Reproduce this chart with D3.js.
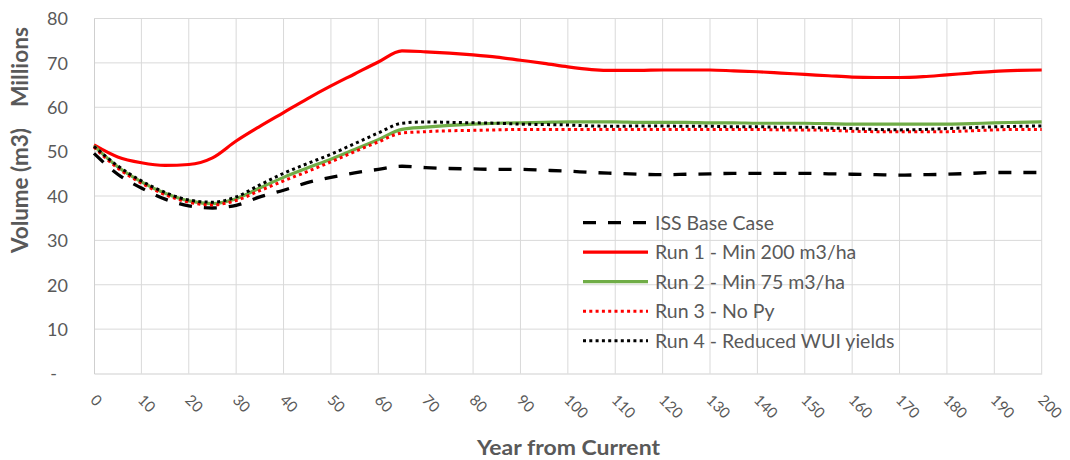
<!DOCTYPE html>
<html>
<head>
<meta charset="utf-8">
<script src="https://cdn.jsdelivr.net/npm/d3@7"></script>
<style>
  html, body { margin: 0; padding: 0; background: #fff; }
  svg { display: block; font-family: Lato, "Open Sans", sans-serif; }
</style>
</head>
<body>
<svg id="chart" width="1070" height="460"></svg>
<script>
// ---- data ----
const years = [0,5,10,15,20,25,30,35,40,45,50,55,60,65,70,75,80,85,90,95,100,105,110,115,120,125,130,135,140,145,150,155,160,165,170,175,180,185,190,195,200];

const issBase = [49.6,44.9,41.8,39.3,37.8,37.3,37.9,39.8,41.3,43.0,44.2,45.2,46.0,46.7,46.4,46.2,46.1,46.0,46.0,45.8,45.6,45.3,45.1,44.9,44.8,44.9,45.0,45.1,45.1,45.1,45.1,45.0,44.9,44.8,44.7,44.8,44.9,45.1,45.3,45.3,45.3];
const run1 = [51.5,48.8,47.5,46.9,47.1,48.6,52.4,55.7,58.8,61.9,64.8,67.5,70.2,72.7,72.5,72.2,71.8,71.3,70.6,69.9,69.1,68.5,68.3,68.3,68.4,68.4,68.4,68.2,68.0,67.7,67.4,67.1,66.8,66.7,66.7,66.9,67.3,67.7,68.1,68.3,68.4];
const run2 = [51.3,46.6,43.2,40.6,38.9,38.3,39.4,41.8,44.2,46.3,48.3,50.5,52.7,55.0,55.5,55.9,56.2,56.4,56.5,56.6,56.7,56.7,56.7,56.6,56.6,56.6,56.5,56.5,56.4,56.4,56.4,56.3,56.2,56.2,56.2,56.2,56.2,56.3,56.5,56.6,56.7];
const run3 = [51.0,46.3,42.9,40.3,38.6,38.0,39.0,41.2,43.4,45.5,47.7,50.0,52.2,54.2,54.5,54.7,54.8,54.9,55.0,55.0,55.0,55.0,55.0,55.0,55.0,55.0,55.0,55.0,55.0,54.9,54.9,54.8,54.6,54.5,54.5,54.5,54.5,54.7,54.9,55.0,55.0];
const run4 = [51.2,46.8,43.4,40.8,39.1,38.6,39.8,42.5,45.1,47.3,49.4,51.8,54.2,56.4,56.7,56.6,56.5,56.4,56.2,56.1,56.0,55.8,55.7,55.8,55.8,55.7,55.7,55.6,55.6,55.5,55.5,55.3,55.2,55.0,54.9,55.0,55.2,55.4,55.6,55.7,55.8];

const seriesNames = ["ISS Base Case","Run 1 - Min 200 m3/ha","Run 2 - Min 75 m3/ha","Run 3 - No Py","Run 4 - Reduced WUI yields"];
const seriesValues = [issBase, run1, run2, run3, run4];
const xTicks = [0,10,20,30,40,50,60,70,80,90,100,110,120,130,140,150,160,170,180,190,200];
const yTicks = [0,10,20,30,40,50,60,70,80];
const xTitle = "Year from Current";
const yTitle = "Volume (m3)";
const unitLabel = "Millions";

// ---- styles ----
const styles = [
  {color:"#000000", width:3.3, dash:"13,12"},
  {color:"#ff0000", width:3.2, dash:null},
  {color:"#70ad47", width:3.2, dash:null},
  {color:"#ff0000", width:3, dash:"3,3.3"},
  {color:"#000000", width:3, dash:"3,3.3"}
];

const svg = d3.select("#chart");
const W = 1070, H = 460;
const textColor = "#595959";
const gridColor = "#d9d9d9";

const x = d3.scaleLinear().domain([0,200]).range([94, 1041.7]);
const y = d3.scaleLinear().domain([0,80]).range([373.5, 18.5]);

svg.append("rect").attr("width", W).attr("height", H).attr("fill", "#fff");

// gridlines
const grid = svg.append("g");
grid.selectAll("line.v").data(xTicks.slice(1)).join("line")
  .attr("x1", d => x(d)).attr("x2", d => x(d))
  .attr("y1", y(0)).attr("y2", y(80))
  .attr("stroke", gridColor).attr("stroke-width", 1);
grid.selectAll("line.h").data(yTicks.slice(1)).join("line")
  .attr("x1", x(0)).attr("x2", x(200))
  .attr("y1", d => y(d)).attr("y2", d => y(d))
  .attr("stroke", gridColor).attr("stroke-width", 1);

// axes
const yAxis = d3.axisLeft(y).tickValues(yTicks).tickSize(0).tickPadding(0)
  .tickFormat(d => d === 0 ? "-" : d);
const gy = svg.append("g").attr("transform", `translate(${x(0)},0)`).call(yAxis);
gy.select(".domain").attr("stroke", "#cfcfcf").attr("stroke-width", 1);
gy.selectAll("text").attr("x", -26).attr("fill", textColor)
  .style("font-size", "18px").style("font-family", "Lato, sans-serif")
  .attr("text-anchor", "end").attr("dy", "0.35em");
gy.selectAll(".tick").filter(d => d === 0).select("text").attr("x", -37);

const xAxis = d3.axisBottom(x).tickValues(xTicks).tickSize(0).tickPadding(0);
const gx = svg.append("g").attr("transform", `translate(0,${y(0)})`).call(xAxis);
gx.select(".domain").attr("stroke", "#cfcfcf").attr("stroke-width", 1);
gx.selectAll("text")
  .attr("fill", textColor).style("font-size", "15px").style("font-family", "Lato, sans-serif")
  .attr("text-anchor", "start")
  .attr("y", 0).attr("dy", 0)
  .attr("transform", "translate(-5,27.5) rotate(45)");

// titles
svg.append("text").attr("x", 568.5).attr("y", 455).attr("text-anchor", "middle")
  .attr("fill", textColor).style("font-size", "21px").style("font-weight", "bold")
  .attr("textLength", 183).attr("lengthAdjust", "spacingAndGlyphs")
  .text(xTitle);
svg.append("text").attr("transform", `translate(28,190.5) rotate(-90)`).attr("text-anchor", "middle")
  .attr("fill", textColor).style("font-size", "22px").style("font-weight", "bold")
  .attr("textLength", 125).attr("lengthAdjust", "spacingAndGlyphs")
  .text(yTitle);
svg.append("text").attr("transform", `translate(28,67) rotate(-90)`).attr("text-anchor", "middle")
  .attr("fill", textColor).style("font-size", "22px").style("font-weight", "bold")
  .attr("textLength", 80).attr("lengthAdjust", "spacingAndGlyphs")
  .text(unitLabel);

// lines
const line = d3.line().x(d => x(d[0])).y(d => y(d[1])).curve(d3.curveMonotoneX);
const plot = svg.append("g");
seriesValues.forEach((vals, i) => {
  const pts = years.map((yr, j) => [yr, vals[j]]);
  const p = plot.append("path").datum(pts).attr("d", line)
    .attr("fill", "none").attr("stroke", styles[i].color)
    .attr("stroke-width", styles[i].width).attr("stroke-linejoin", "round");
  if (styles[i].dash) p.attr("stroke-dasharray", styles[i].dash);
});

// legend
const legend = svg.append("g");
const legY0 = 222.7, legStep = 29.5;
seriesNames.forEach((name, i) => {
  const yy = legY0 + i * legStep;
  const l = legend.append("line").attr("x1", 583).attr("x2", 648).attr("y1", yy).attr("y2", yy)
    .attr("stroke", styles[i].color).attr("stroke-width", styles[i].width);
  if (styles[i].dash) l.attr("stroke-dasharray", styles[i].dash);
  legend.append("text").attr("x", 655).attr("y", yy).attr("dy", "0.35em")
    .attr("fill", textColor).style("font-size", "19.5px").text(name);
});
</script>
</body>
</html>
